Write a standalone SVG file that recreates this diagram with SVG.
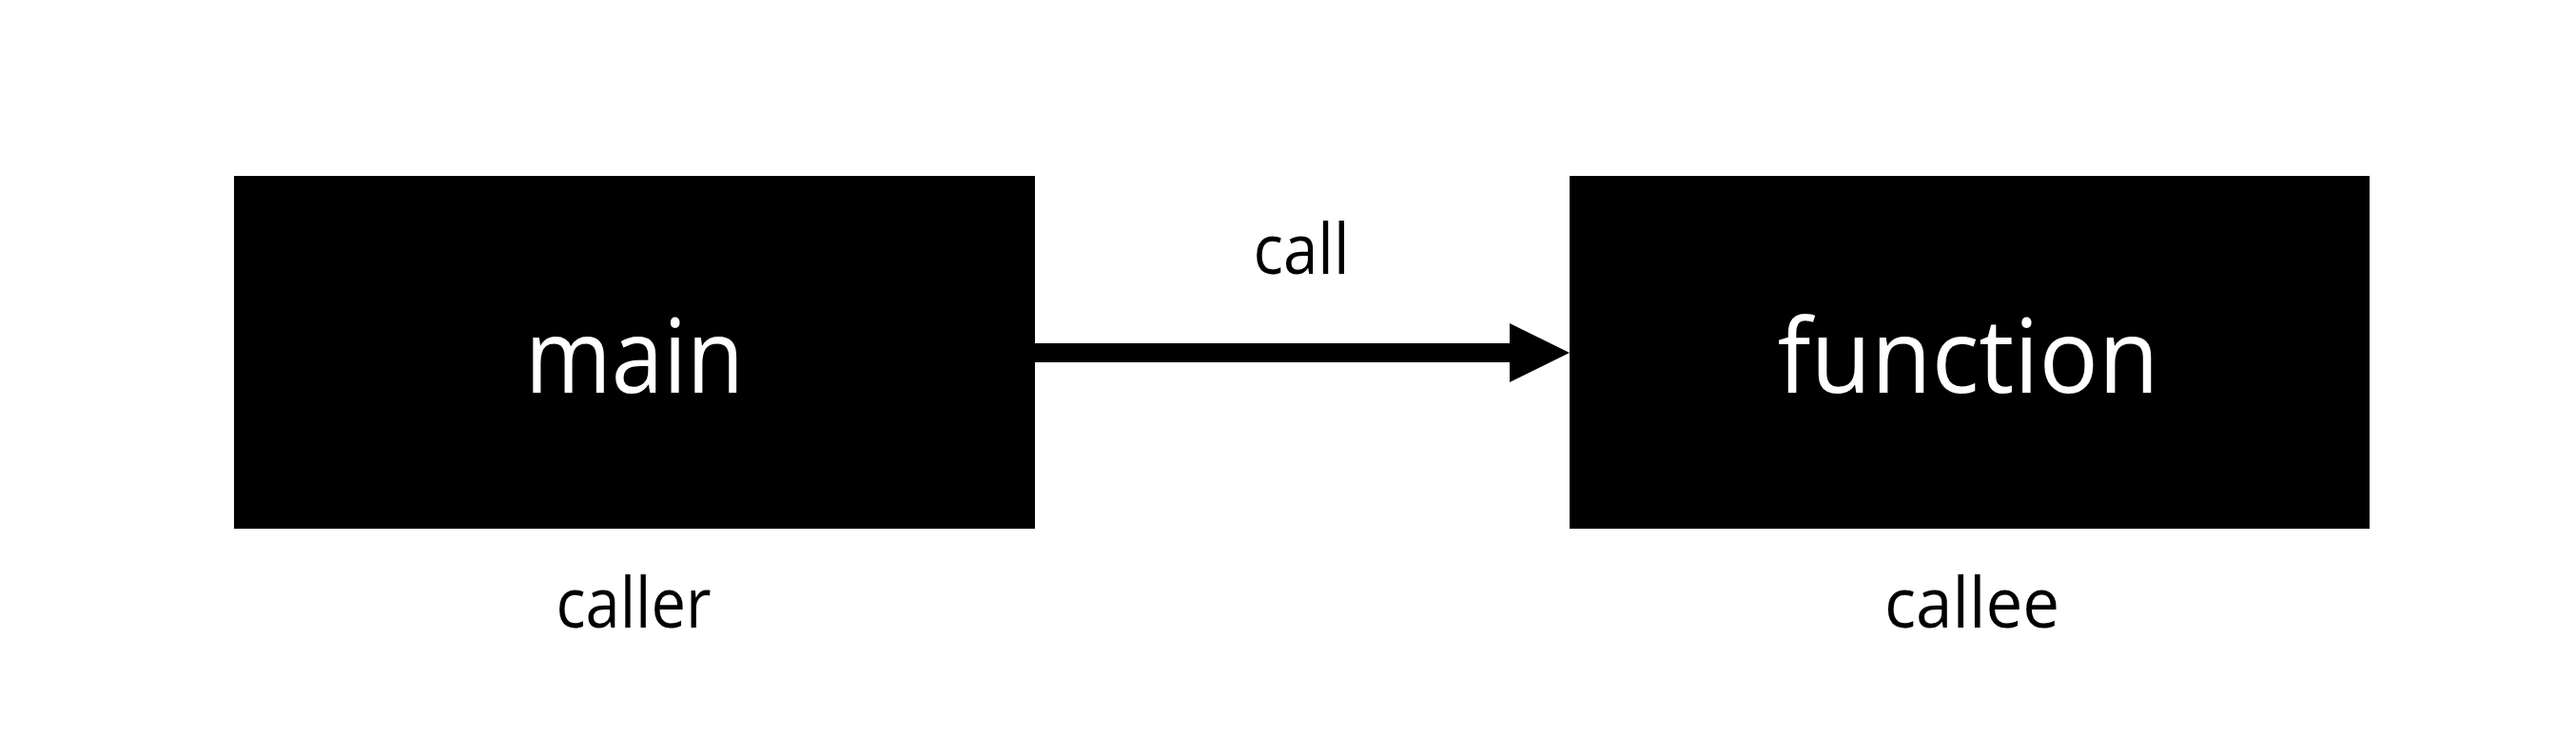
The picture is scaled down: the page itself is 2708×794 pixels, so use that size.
<svg xmlns="http://www.w3.org/2000/svg" width="2708" height="794" viewBox="0 0 2708 794">
<style>
.box{fill:#000}
.big{font-family:"Open Sans","Noto Sans",sans-serif;font-size:108px;fill:#fff;text-anchor:middle}
.lbl{font-family:"Open Sans","Noto Sans",sans-serif;font-size:74px;fill:#000;text-anchor:middle}
</style>
<defs>
<marker id="arr" viewBox="0 0 63 62" refX="0" refY="31" markerWidth="63" markerHeight="62" markerUnits="userSpaceOnUse" orient="auto">
<path d="M0,0 L63,31 L0,62 Z" fill="#000"/>
</marker>
</defs>
<rect width="2708" height="794" fill="#fff"/>
<g id="main">
<rect class="box" x="246" y="185" width="842" height="371"/>
<text class="big" x="667" y="413" textLength="230" lengthAdjust="spacingAndGlyphs">main</text>
<text class="lbl" x="666" y="660" textLength="163" lengthAdjust="spacingAndGlyphs">caller</text>
</g>
<g id="function">
<rect class="box" x="1650" y="185" width="841" height="371"/>
<text class="big" x="2069" y="413" textLength="401" lengthAdjust="spacingAndGlyphs">function</text>
<text class="lbl" x="2073" y="660" textLength="184" lengthAdjust="spacingAndGlyphs">callee</text>
</g>
<g id="connectors">
<line x1="1088" y1="371" x2="1587" y2="371" stroke="#000" stroke-width="20" marker-end="url(#arr)"/>
<text class="lbl" x="1368" y="288" textLength="101" lengthAdjust="spacingAndGlyphs">call</text>
</g>
</svg>
